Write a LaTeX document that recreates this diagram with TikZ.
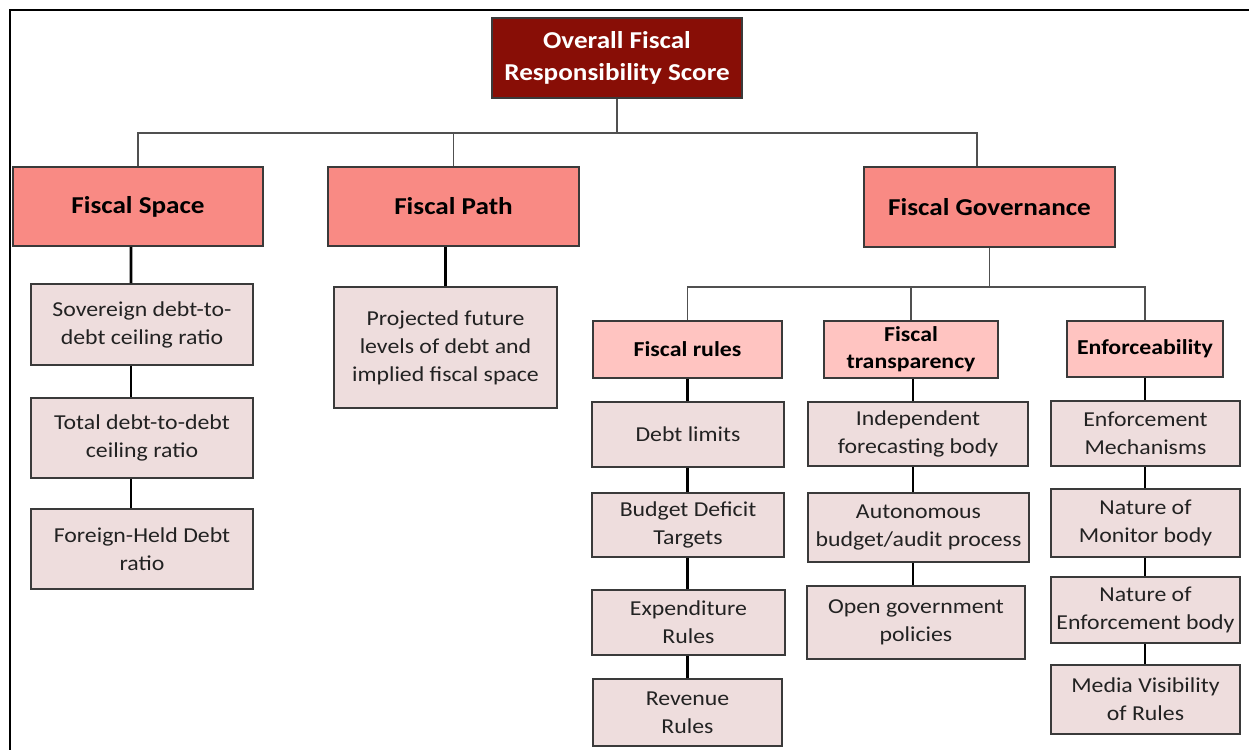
\documentclass[tikz,border=0pt]{standalone}
\usepackage{fontspec}
\setmainfont{Carlito}[FakeStretch=1.12]
\usepackage{tikz}
\usepackage{xcolor}
\usetikzlibrary{positioning}

\definecolor{topred}{HTML}{880E06}
\definecolor{headpink}{HTML}{F98A84}
\definecolor{subpink}{HTML}{FFC4C1}
\definecolor{leafpink}{HTML}{EEDDDD}
\definecolor{boxline}{HTML}{3A3A3A}
\definecolor{busgray}{HTML}{505050}
\definecolor{textgray}{HTML}{222222}

\begin{document}
\begin{tikzpicture}[x=0.02cm,y=-0.02cm,
every node/.style={inner sep=0pt,align=center},
topbox/.style={rectangle,draw=boxline,line width=1pt,fill=topred,text=white,font=\bfseries\fontsize{13.8}{18.5}\selectfont},
headbox/.style={rectangle,draw=boxline,line width=1pt,fill=headpink,text=black,font=\bfseries\fontsize{13.8}{17}\selectfont},
subbox/.style={rectangle,draw=boxline,line width=1pt,fill=subpink,text=black,font=\bfseries\fontsize{12.1}{15.5}\selectfont},
leafbox/.style={rectangle,draw=boxline,line width=1pt,fill=leafpink,text=textgray,font=\fontsize{12.1}{15.9}\selectfont},
bus/.style={draw=busgray,line width=0.8pt},
link/.style={draw=black,line width=1.6pt}]
\useasboundingbox (0,0) rectangle (1249,750);
% frame
\draw[line width=1.1pt] (10,750) -- (10,10) -- (1249,10);
% top level
\node (a) at (617,58) [topbox,minimum width=5cm,minimum height=1.6cm] {Overall Fiscal\\Responsibility Score};
\node (b) at (138,206.5) [headbox,minimum width=5cm,minimum height=1.58cm] {Fiscal Space};
\node (c) at (453.5,206.5) [headbox,minimum width=5.02cm,minimum height=1.58cm] {Fiscal Path};
\node (d) at (989.5,207) [headbox,minimum width=5.02cm,minimum height=1.6cm] {Fiscal Governance};
\draw[bus] (a.south) -- ++(0,34) -| (b.north);
\draw[bus] (a.south) -- ++(0,34) -| (c.north);
\draw[bus] (a.south) -- ++(0,34) -| ([xshift=-0.25cm]d.north);
% fiscal space
\node (e) at (142,324.5) [leafbox,minimum width=4.44cm,minimum height=1.62cm] {Sovereign debt-to-\\debt ceiling ratio};
\node (f) at (142,438) [leafbox,minimum width=4.44cm,minimum height=1.6cm] {Total debt-to-debt\\ceiling ratio};
\node (g) at (142,549) [leafbox,minimum width=4.44cm,minimum height=1.6cm] {Foreign-Held Debt\\ratio};
\draw[link] ([xshift=-0.14cm]b.south) -- ([xshift=-0.22cm]e.north);
\draw[link] ([xshift=-0.22cm]e.south) -- ([xshift=-0.22cm]f.north);
\draw[link] ([xshift=-0.22cm]f.south) -- ([xshift=-0.22cm]g.north);
% fiscal path
\node (h) at (445.5,347.5) [leafbox,minimum width=4.46cm,minimum height=2.42cm] {Projected future\\levels of debt and\\implied fiscal space};
\draw[link] (h.north |- c.south) -- (h.north);
% fiscal governance
\node (i) at (687.5,349.5) [subbox,minimum width=3.78cm,minimum height=1.14cm] {Fiscal rules};
\node (j) at (911,349.5) [subbox,minimum width=3.48cm,minimum height=1.14cm] {Fiscal\\transparency};
\node (k) at (1145,349) [subbox,minimum width=3.12cm,minimum height=1.12cm] {Enforceability};
\draw[bus] (d.south) -- ++(0,39) -| (i.north);
\draw[bus] (d.south) -- ++(0,39) -| (j.north);
\draw[bus] (d.south) -- ++(0,39) -| (k.north);
% fiscal rules
\node (l) at (688,434.5) [leafbox,minimum width=3.84cm,minimum height=1.3cm] {Debt limits};
\node (m) at (688,525) [leafbox,minimum width=3.84cm,minimum height=1.28cm] {Budget Deficit\\Targets};
\node (n) at (688.5,622.5) [leafbox,minimum width=3.86cm,minimum height=1.3cm] {Expenditure\\Rules};
\node (o) at (687.5,712.5) [leafbox,minimum width=3.78cm,minimum height=1.34cm] {Revenue\\Rules};
\draw[link] (i.south) -- (i.south |- l.north);
\draw[link] (l.south -| i.south) -- (m.north -| i.south);
\draw[link] (m.south -| i.south) -- (n.north -| i.south);
\draw[link] (n.south -| i.south) -- (o.north -| i.south);
% fiscal transparency
\node (p) at (918,434) [leafbox,minimum width=4.4cm,minimum height=1.28cm] {Independent\\forecasting body};
\node (q) at (918.5,527.5) [leafbox,minimum width=4.42cm,minimum height=1.38cm] {Autonomous\\budget/audit process};
\node (r) at (916,622.5) [leafbox,minimum width=4.36cm,minimum height=1.46cm] {Open government\\policies};
\draw[link] ([xshift=0.04cm]j.south) -- ([xshift=0.04cm]j.south |- p.north);
\draw[link] ([xshift=0.04cm]p.south -| j.south) -- ([xshift=0.04cm]q.north -| j.south);
\draw[link] ([xshift=0.04cm]q.south -| j.south) -- ([xshift=0.04cm]r.north -| j.south);
% enforceability
\node (s) at (1145.5,433.5) [leafbox,minimum width=3.78cm,minimum height=1.3cm] {Enforcement\\Mechanisms};
\node (t) at (1145.5,523) [leafbox,minimum width=3.78cm,minimum height=1.36cm] {Nature of\\Monitor body};
\node (u) at (1145.5,610) [leafbox,minimum width=3.78cm,minimum height=1.32cm] {Nature of\\Enforcement body};
\node (v) at (1145.5,699.5) [leafbox,minimum width=3.78cm,minimum height=1.38cm] {Media Visibility\\of Rules};
\draw[link] (k.south) -- (k.south |- s.north);
\draw[link] (s.south -| k.south) -- (t.north -| k.south);
\draw[link] (t.south -| k.south) -- (u.north -| k.south);
\draw[link] (u.south -| k.south) -- (v.north -| k.south);
\end{tikzpicture}
\end{document}
